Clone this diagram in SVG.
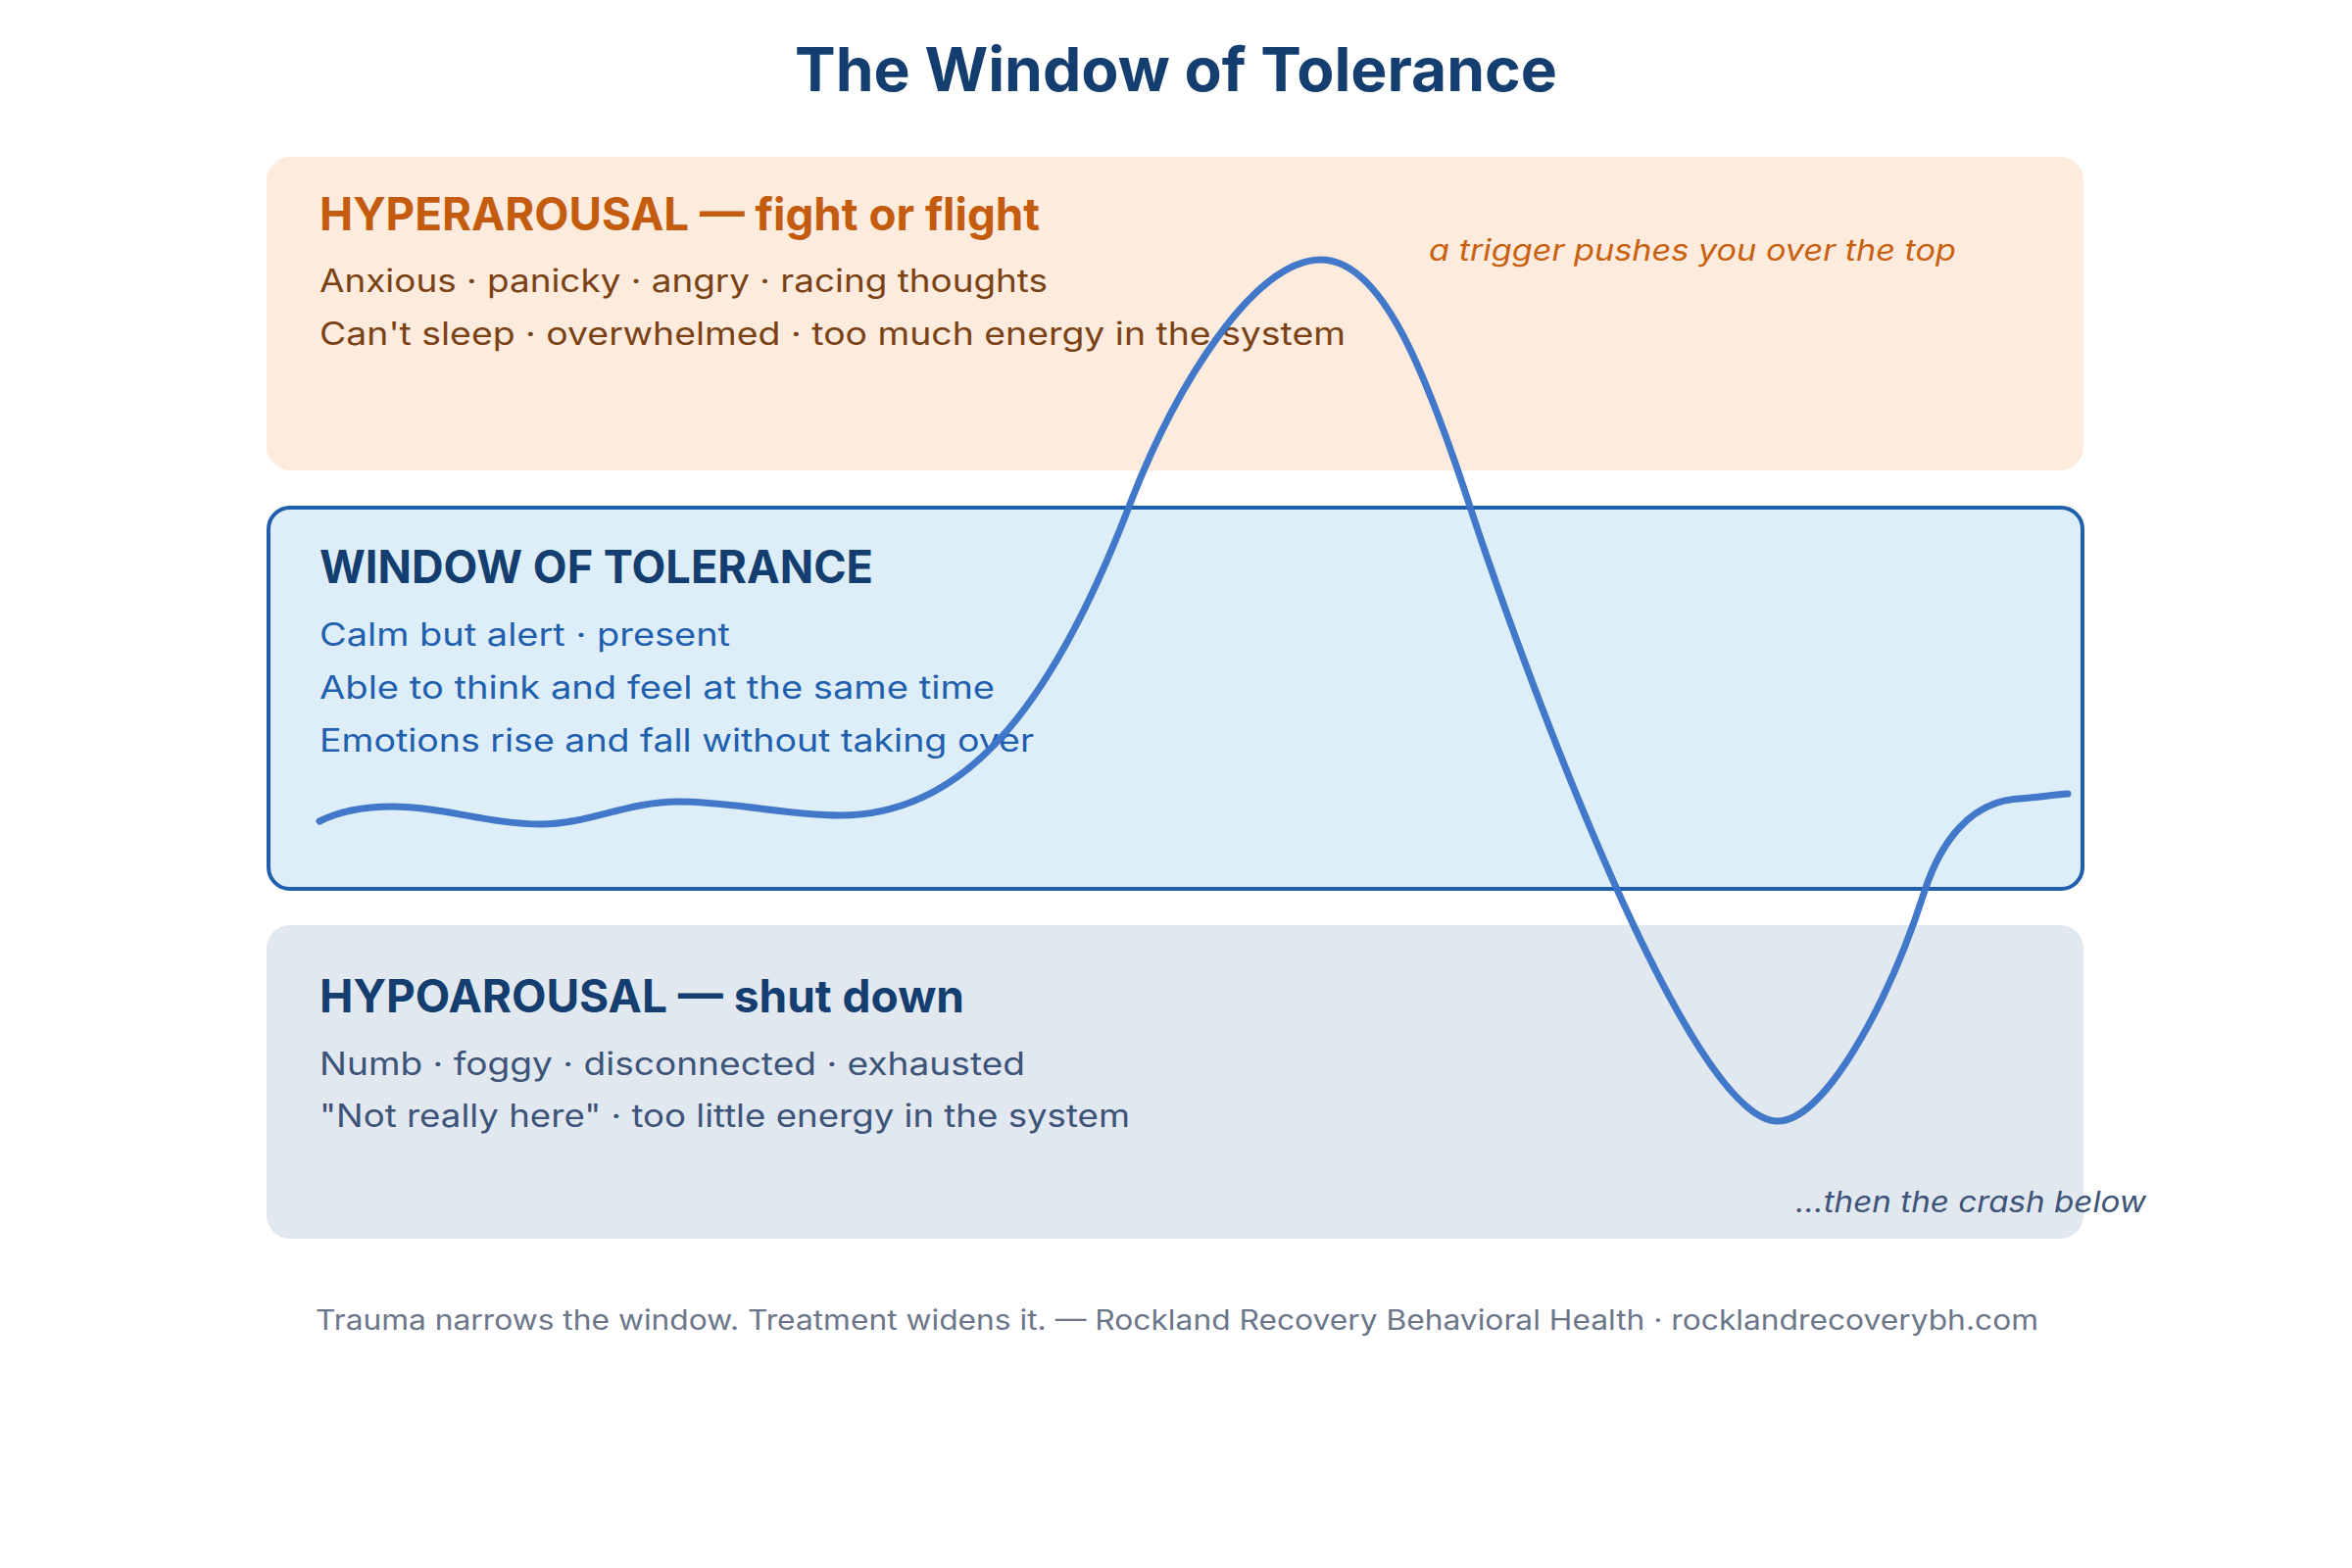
<svg xmlns="http://www.w3.org/2000/svg" width="2400" height="1600" viewBox="0 0 2400 1600">
<style>
.t{font-family:Inter,"Noto Sans","Liberation Sans",sans-serif}
.title{font-size:62px;font-weight:700;fill:#143e6f}
.h{font-size:46px;font-weight:700}
.b{font-size:32px;font-weight:400}
.note{font-size:30px;font-style:italic}
.foot{font-size:28px;fill:#6b7789}
</style>
<rect width="2400" height="1600" fill="#ffffff"/>
<text class="t title" x="1200" y="93" text-anchor="middle" textLength="778" lengthAdjust="spacingAndGlyphs">The Window of Tolerance</text>
<g id="hyperarousal">
<rect x="272" y="160" width="1854" height="320" rx="24" fill="#fdebdd"/>
<text class="t h" x="326" y="235" fill="#c45c0f" textLength="735" lengthAdjust="spacingAndGlyphs">HYPERAROUSAL — fight or flight</text>
<text class="t b" x="326" y="298" fill="#7a4214" textLength="743" lengthAdjust="spacingAndGlyphs">Anxious · panicky · angry · racing thoughts</text>
<text class="t b" x="326" y="352" fill="#7a4214" textLength="1047" lengthAdjust="spacingAndGlyphs">Can't sleep · overwhelmed · too much energy in the system</text>
</g>
<g id="window">
<rect x="274" y="518" width="1851" height="389" rx="22" fill="#ddeef8" stroke="#1f5fae" stroke-width="4"/>
<text class="t h" x="326" y="595" fill="#143e6f" textLength="565" lengthAdjust="spacingAndGlyphs">WINDOW OF TOLERANCE</text>
<text class="t b" x="326" y="659" fill="#1f5fae" textLength="419" lengthAdjust="spacingAndGlyphs">Calm but alert · present</text>
<text class="t b" x="326" y="713" fill="#1f5fae" textLength="689" lengthAdjust="spacingAndGlyphs">Able to think and feel at the same time</text>
<text class="t b" x="326" y="767" fill="#1f5fae" textLength="729" lengthAdjust="spacingAndGlyphs">Emotions rise and fall without taking over</text>
</g>
<g id="hypoarousal">
<rect x="272" y="944" width="1854" height="320" rx="24" fill="#e2e8ef"/>
<text class="t h" x="326" y="1033" fill="#143e6f" textLength="658" lengthAdjust="spacingAndGlyphs">HYPOAROUSAL — shut down</text>
<text class="t b" x="326" y="1097" fill="#3d5478" textLength="720" lengthAdjust="spacingAndGlyphs">Numb · foggy · disconnected · exhausted</text>
<text class="t b" x="326" y="1150" fill="#3d5478" textLength="827" lengthAdjust="spacingAndGlyphs">"Not really here" · too little energy in the system</text>
</g>
<g id="annotations">
<text class="t note" x="1458" y="266" fill="#c8600f" textLength="538" lengthAdjust="spacingAndGlyphs">a trigger pushes you over the top</text>
<text class="t note" x="1832" y="1237" fill="#3d5478" textLength="358" lengthAdjust="spacingAndGlyphs">…then the crash below</text>
</g>
<g id="connectors">
<path d="M326,838 C350,826 375,823 400,823 C450,823 500,841 552,841 C600,841 640,818 692,818 C750,818 800,832 857,832 C980,832 1070,730 1152,517 C1200,392 1280,265 1348,265 C1410,265 1455,380 1500,517 C1545,654 1720,1144 1814,1144 C1860,1144 1925,1030 1964,909 C1980,860 2010,818 2060,815 C2085,813 2095,811 2110,810" fill="none" stroke="#3c74c8" stroke-width="7" stroke-linecap="round" stroke-linejoin="round" stroke-opacity="0.97"/>
</g>
<text class="t foot" x="1201" y="1357" text-anchor="middle" textLength="1758" lengthAdjust="spacingAndGlyphs">Trauma narrows the window. Treatment widens it. — Rockland Recovery Behavioral Health · rocklandrecoverybh.com</text>
</svg>
